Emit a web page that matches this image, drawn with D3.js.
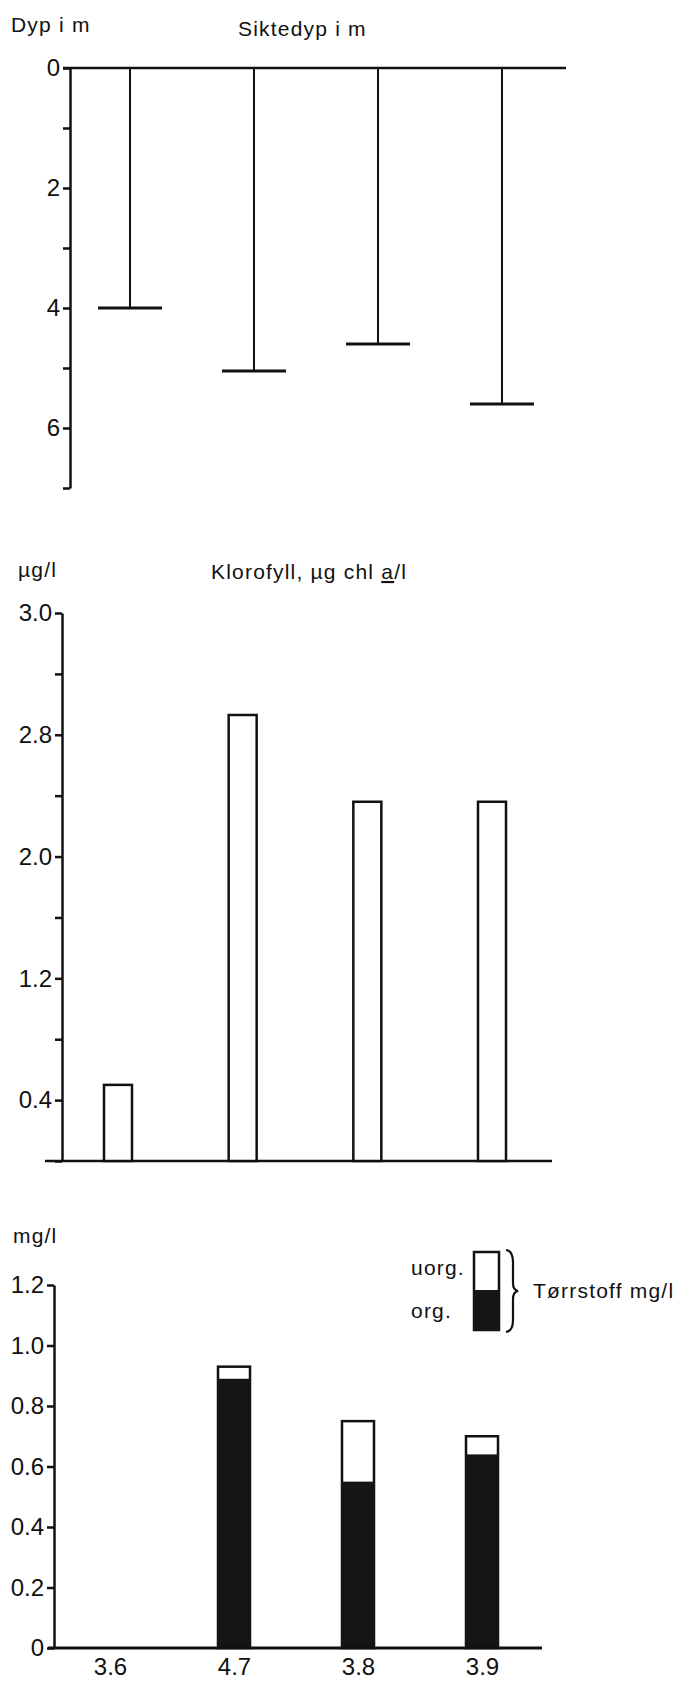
<!DOCTYPE html>
<html>
<head>
<meta charset="utf-8">
<script src="https://cdn.jsdelivr.net/npm/d3@7"></script>
<style>
  body { margin: 0; background: #fff; }
  svg text { font-family: "Liberation Sans", Arial, sans-serif; fill: #111; }
  .tick line, .domain { stroke: #111; }
</style>
</head>
<body>
<div class="chartContainer"></div>
<script>
// sampling dates (x labels)
var dates = ["3.6", "4.7", "3.8", "3.9"];
// Secchi depth, m
var sikte = [4.0, 5.05, 4.6, 5.6];
// chlorophyll a, ug/l
var klorofyll = [0.5, 2.93, 2.36, 2.36];
var chlTicks = [0, 0.4, 0.8, 1.2, 1.6, 2.0, 2.4, 2.8, 3.2, 3.6];
var chlTickLabels = ["", "0.4", "", "1.2", "", "2.0", "", "2.8", "", "3.0"];
// dry matter, mg/l
var torrTotal = [0, 0.93, 0.75, 0.70];
var torrOrg = [0, 0.89, 0.55, 0.64];
var torrTicks = [0, 0.2, 0.4, 0.6, 0.8, 1.0, 1.2];
var torrTickLabels = ["0", "0.2", "0.4", "0.6", "0.8", "1.0", "1.2"];

var w = 690,
    h = 1683;

var svg = d3.select(".chartContainer")
    .append("svg")
    .attr("width", w)
    .attr("height", h);

function label(x, y, txt, size, anchor) {
    return svg.append("text")
        .attr("x", x)
        .attr("y", y)
        .attr("font-size", size)
        .attr("letter-spacing", 1.2)
        .attr("text-anchor", anchor || "start")
        .text(txt);
}

function leftAxis(scale, x, ticks, fmt) {
    var g = svg.append("g")
        .attr("transform", "translate(" + x + ",0)")
        .call(d3.axisLeft(scale)
            .tickValues(ticks)
            .tickFormat(fmt)
            .tickSize(7)
            .tickSizeOuter(0)
            .tickPadding(3));
    g.select(".domain").attr("stroke-width", 2.5);
    g.selectAll(".tick line").attr("stroke-width", 2.5);
    g.selectAll(".tick text").attr("font-size", 24).attr("fill", "#111");
    return g;
}

// ---- Siktedyp ----
var x1 = d3.scalePoint().domain(dates).range([130, 502]);
var y1 = d3.scaleLinear().domain([0, 7]).range([68, 488]);

label(11, 32, "Dyp i m", 21);
label(238, 36, "Siktedyp i m", 21);

leftAxis(y1, 70, d3.range(0, 8), function (d) { return d % 2 === 0 ? d : ""; });

svg.append("line")
    .attr("x1", 63).attr("x2", 566)
    .attr("y1", y1(0)).attr("y2", y1(0))
    .attr("stroke", "#111").attr("stroke-width", 2.5);

svg.selectAll(".stem")
    .data(sikte)
    .enter().append("line")
    .attr("x1", function (d, i) { return x1(dates[i]); })
    .attr("x2", function (d, i) { return x1(dates[i]); })
    .attr("y1", y1(0))
    .attr("y2", function (d) { return y1(d); })
    .attr("stroke", "#111").attr("stroke-width", 2);

svg.selectAll(".cap")
    .data(sikte)
    .enter().append("line")
    .attr("x1", function (d, i) { return x1(dates[i]) - 32; })
    .attr("x2", function (d, i) { return x1(dates[i]) + 32; })
    .attr("y1", function (d) { return y1(d); })
    .attr("y2", function (d) { return y1(d); })
    .attr("stroke", "#111").attr("stroke-width", 3);

// ---- Klorofyll ----
var x2 = d3.scalePoint().domain(dates).range([118, 492]);
var y2 = d3.scaleLinear().domain([0, 3.6]).range([1161, 613]);

label(18, 577, "\u00b5g/l", 21);
var t2 = label(211, 579, "Klorofyll, \u00b5g chl ", 21);
t2.append("tspan").attr("text-decoration", "underline").text("a");
t2.append("tspan").text("/l");

leftAxis(y2, 62, chlTicks, function (d, i) { return chlTickLabels[i]; });

svg.append("line")
    .attr("x1", 45).attr("x2", 552)
    .attr("y1", y2(0)).attr("y2", y2(0))
    .attr("stroke", "#111").attr("stroke-width", 2.5);

svg.selectAll(".chlbar")
    .data(klorofyll)
    .enter().append("rect")
    .attr("x", function (d, i) { return x2(dates[i]) - 14; })
    .attr("y", function (d) { return y2(d); })
    .attr("width", 28)
    .attr("height", function (d) { return y2(0) - y2(d); })
    .attr("fill", "#fff")
    .attr("stroke", "#111").attr("stroke-width", 2.5);

// ---- Tørrstoff ----
var x3 = d3.scalePoint().domain(dates).range([110, 482]);
var y3 = d3.scaleLinear().domain([0, 1.2]).range([1648, 1285]);

label(13, 1243, "mg/l", 21);

leftAxis(y3, 54, torrTicks, function (d, i) { return torrTickLabels[i]; });

svg.selectAll(".uorg")
    .data(torrTotal)
    .enter().append("rect")
    .filter(function (d) { return d > 0; })
    .attr("x", function (d) { return x3(dates[torrTotal.indexOf(d)]) - 16; })
    .attr("y", function (d) { return y3(d); })
    .attr("width", 32)
    .attr("height", function (d) { return y3(0) - y3(d); })
    .attr("fill", "#fff")
    .attr("stroke", "#111").attr("stroke-width", 2.5);

svg.selectAll(".org")
    .data(torrOrg)
    .enter().append("rect")
    .attr("x", function (d, i) { return x3(dates[i]) - 17; })
    .attr("y", function (d) { return y3(d); })
    .attr("width", 34)
    .attr("height", function (d) { return y3(0) - y3(d); })
    .attr("fill", "#151515");

svg.append("line")
    .attr("x1", 48).attr("x2", 542)
    .attr("y1", y3(0)).attr("y2", y3(0))
    .attr("stroke", "#111").attr("stroke-width", 3);

var xa = svg.append("g")
    .attr("transform", "translate(0," + y3(0) + ")")
    .call(d3.axisBottom(x3).tickSize(0).tickPadding(10));
xa.select(".domain").remove();
xa.selectAll(".tick text").attr("font-size", 24).attr("fill", "#111");

// legend
label(411, 1275, "uorg.", 21);
label(411, 1318, "org.", 21);
svg.append("rect")
    .attr("x", 474).attr("y", 1252)
    .attr("width", 25).attr("height", 78)
    .attr("fill", "#fff").attr("stroke", "#111").attr("stroke-width", 2.5);
svg.append("rect")
    .attr("x", 473).attr("y", 1290)
    .attr("width", 27).attr("height", 41)
    .attr("fill", "#151515");
svg.append("path")
    .attr("d", "M506,1250 Q513,1251 513,1262 L513,1283 Q513,1290 518,1291 Q513,1292 513,1299 L513,1320 Q513,1331 506,1332")
    .attr("fill", "none").attr("stroke", "#111").attr("stroke-width", 2.2);
label(533, 1298, "T\u00f8rrstoff mg/l", 21);
</script>
</body>
</html>
